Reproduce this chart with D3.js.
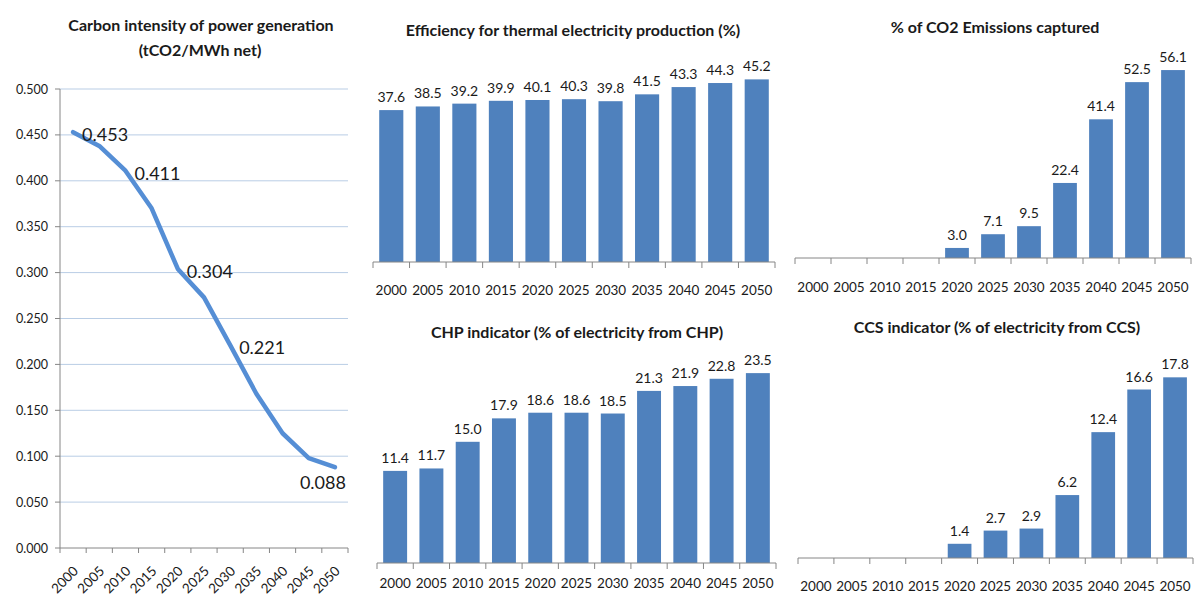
<!DOCTYPE html>
<html><head><meta charset="utf-8">
<script src="https://cdn.jsdelivr.net/npm/d3@7"></script>
<style>
html,body{margin:0;padding:0;background:#fff;}
svg{display:block;font-family:Lato,"Open Sans",sans-serif;}
</style></head><body>
<svg id="c" width="1194" height="599"></svg>
<script>
const years = ["2000","2005","2010","2015","2020","2025","2030","2035","2040","2045","2050"];
const carbonIntensity = [0.453,0.438,0.411,0.370,0.304,0.273,0.221,0.168,0.125,0.098,0.088];
const carbonLabels = ["0.453",null,"0.411",null,"0.304",null,"0.221",null,null,null,"0.088"];
const carbonTicks = [0,0.05,0.1,0.15,0.2,0.25,0.3,0.35,0.4,0.45,0.5];
const efficiency = [37.6,38.5,39.2,39.9,40.1,40.3,39.8,41.5,43.3,44.3,45.2];
const chp = [11.4,11.7,15.0,17.9,18.6,18.6,18.5,21.3,21.9,22.8,23.5];
const co2Captured = [0,0,0,0,3.0,7.1,9.5,22.4,41.4,52.5,56.1];
const ccs = [0,0,0,0,1.4,2.7,2.9,6.2,12.4,16.6,17.8];

const svg = d3.select("#c");
const BLUE = "#4F81BD", AXIS = "#868686", TXT = "#1a1a1a";

// ---------- Line chart ----------
(function(){
  const g = svg.append("g");
  const x = d3.scaleBand().domain(years).range([60,348]);
  const y = d3.scaleLinear().domain([0,0.5]).range([548,89]);
  g.append("text").attr("x",201).attr("y",31).attr("text-anchor","middle")
    .attr("font-size",16).attr("font-weight","bold").attr("fill",TXT).text("Carbon intensity of power generation");
  g.append("text").attr("x",200).attr("y",56).attr("text-anchor","middle")
    .attr("font-size",16).attr("font-weight","bold").attr("fill",TXT).text("(tCO2/MWh net)");
  g.selectAll("line.grid").data(carbonTicks.slice(1)).join("line")
    .attr("x1",60).attr("x2",348).attr("y1",d=>y(d)).attr("y2",d=>y(d))
    .attr("stroke","#B9CDE5").attr("stroke-width",1);
  g.append("line").attr("x1",60).attr("x2",60).attr("y1",y(0.5)).attr("y2",y(0)).attr("stroke",AXIS);
  g.selectAll("text.yt").data(carbonTicks).join("text")
    .attr("x",48).attr("y",d=>y(d)+4.5).attr("text-anchor","end").attr("font-size",12.5).attr("fill",TXT)
    .text(d=>d3.format(".3f")(d));
  g.selectAll("line.yt").data(carbonTicks).join("line")
    .attr("x1",55).attr("x2",60).attr("y1",d=>y(d)).attr("y2",d=>y(d)).attr("stroke",AXIS);
  g.append("line").attr("x1",60).attr("x2",348).attr("y1",y(0)).attr("y2",y(0)).attr("stroke",AXIS);
  const edges = years.map(d=>x(d)).concat([x.range()[1]]);
  g.selectAll("line.xt").data(edges).join("line")
    .attr("x1",d=>d).attr("x2",d=>d).attr("y1",y(0)).attr("y2",y(0)+5).attr("stroke",AXIS);
  g.selectAll("text.xl").data(years).join("text")
    .attr("transform",d=>`translate(${x(d)+x.bandwidth()/2+6},${y(0)+24}) rotate(-45)`)
    .attr("text-anchor","end").attr("font-size",13.5).attr("fill",TXT).text(d=>d);
  const line = d3.line().x((d,i)=>x(years[i])+x.bandwidth()/2).y(d=>y(d));
  g.append("path").attr("d",line(carbonIntensity)).attr("fill","none")
    .attr("stroke-width",4.5).attr("stroke-linejoin","round").attr("stroke-linecap","round")
    .attr("stroke","#558ED5");
  carbonLabels.forEach((t,i)=>{
    if(!t) return;
    const px = x(years[i])+x.bandwidth()/2, py = y(carbonIntensity[i]);
    const last = i===years.length-1;
    g.append("text").attr("x", last ? px-12 : px+9).attr("y", last ? py+22 : py+9)
      .attr("text-anchor", last ? "middle" : "start").attr("font-size",18).attr("fill",TXT).text(t);
  });
})();

// ---------- Bar charts ----------
function barChart(o){
  const g = svg.append("g");
  const x = d3.scaleBand().domain(years).range([o.x0,o.x1]).paddingInner(0.34).paddingOuter(0.17);
  const xe = d3.scaleBand().domain(years).range([o.x0,o.x1]);
  const y = d3.scaleLinear().domain([0,o.max]).range([o.base,o.base-o.h]);
  g.append("text").attr("x",o.tx).attr("y",o.ty).attr("text-anchor","middle")
    .attr("font-size",16).attr("font-weight","bold").attr("fill",TXT).text(o.title);
  g.selectAll("rect").data(o.values).join("rect")
    .attr("x",(d,i)=>x(years[i])).attr("width",x.bandwidth())
    .attr("y",d=>y(d)).attr("height",d=>y(0)-y(d)).attr("fill",BLUE);
  g.selectAll("text.v").data(o.values).join("text")
    .attr("x",(d,i)=>x(years[i])+x.bandwidth()/2).attr("y",d=>y(d)-8)
    .attr("text-anchor","middle").attr("font-size",14).attr("fill",TXT)
    .text(d=>d>0 ? d3.format(".1f")(d) : "");
  g.append("line").attr("x1",o.x0).attr("x2",o.x1).attr("y1",o.base).attr("y2",o.base).attr("stroke",AXIS);
  const edges = years.map(d=>xe(d)).concat([o.x1]);
  g.selectAll("line.t").data(edges).join("line")
    .attr("x1",d=>d).attr("x2",d=>d).attr("y1",o.base).attr("y2",o.base+6).attr("stroke",AXIS);
  g.selectAll("text.c").data(years).join("text")
    .attr("x",d=>xe(d)+xe.bandwidth()/2).attr("y",o.ly)
    .attr("text-anchor","middle").attr("font-size",13.5).attr("fill",TXT).text(d=>d);
}
barChart({title:"Efficiency for thermal electricity production (%)",values:efficiency,
  x0:373,x1:775,base:262,max:50,h:202,tx:573,ty:36,ly:295});
barChart({title:"CHP indicator (% of electricity from CHP)",values:chp,
  x0:377,x1:776,base:563,max:25,h:202,tx:577,ty:338,ly:588});
barChart({title:"% of CO2 Emissions captured",values:co2Captured,
  x0:795,x1:1191,base:258,max:60,h:201,tx:995,ty:33,ly:292});
barChart({title:"CCS indicator (% of electricity from CCS)",values:ccs,
  x0:798,x1:1193,base:558,max:20,h:203,tx:997,ty:333,ly:591});
</script></body></html>
